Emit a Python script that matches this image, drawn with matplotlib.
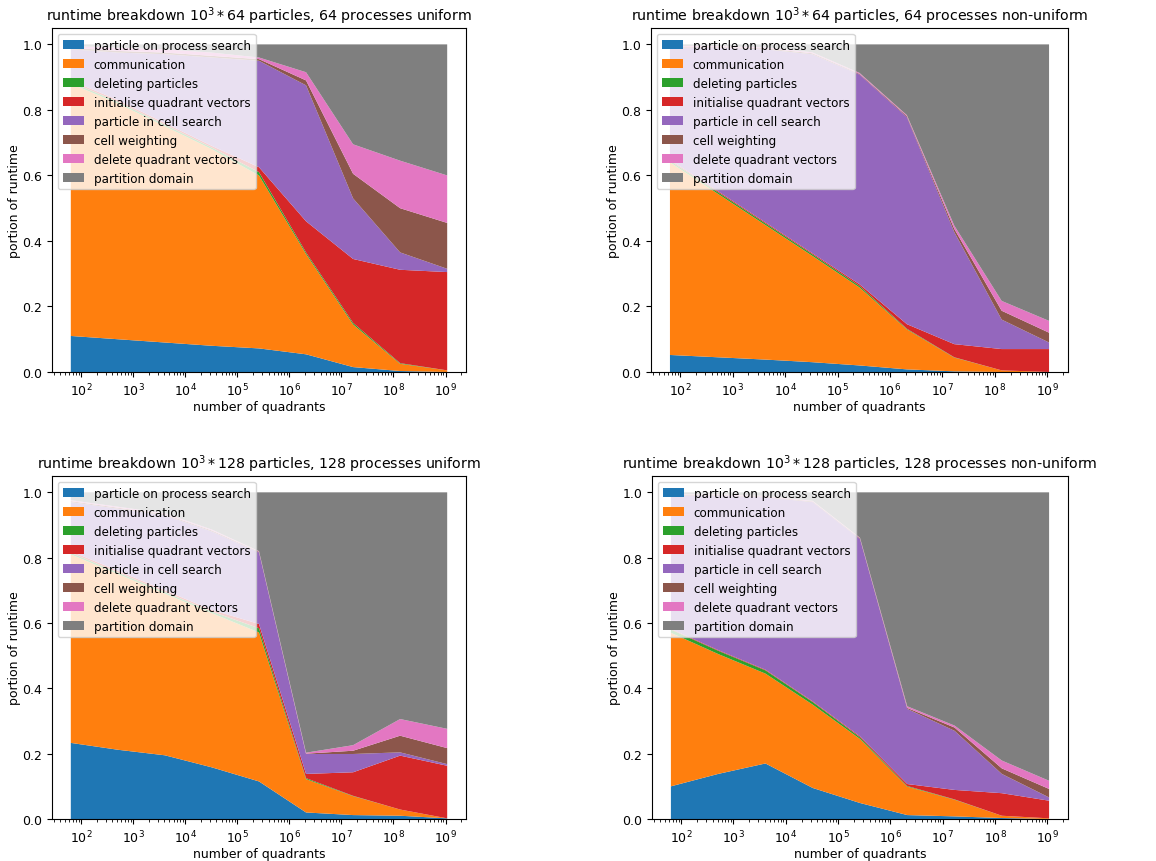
import numpy as np
import matplotlib
matplotlib.use("Agg")
import matplotlib.pyplot as plt

# number of quadrants: (2^k)^3 for k = 2..10
quadrants = [64, 512, 4096, 32768, 262144, 2097152, 16777216, 134217728, 1073741824]

labels = ["particle on process search", "communication", "deleting particles",
          "initialise quadrant vectors", "particle in cell search", "cell weighting",
          "delete quadrant vectors", "partition domain"]

# 10^3*64 particles, 64 processes, uniform
u64_search = [.110, .100, .090, .080, .072, .054, .015, .003, .000]
u64_comm = [.770, .720, .660, .600, .528, .306, .130, .022, .005]
u64_delete = [.005, .005, .005, .005, .010, .005, .005, .002, .000]
u64_init = [.005, .005, .005, .005, .015, .095, .195, .285, .300]
u64_cell = [.095, .145, .210, .270, .325, .415, .185, .053, .010]
u64_weight = [.005, .005, .005, .005, .005, .015, .075, .135, .140]
u64_delquad = [.005, .010, .010, .010, .005, .025, .090, .145, .145]
u64_part = [.005, .010, .015, .025, .040, .085, .305, .355, .400]

# 10^3*64 particles, 64 processes, non-uniform
n64_search = [.052, .045, .038, .030, .020, .008, .002, .000, .000]
n64_comm = [.588, .500, .412, .325, .238, .122, .042, .005, .000]
n64_delete = [.005, .005, .005, .005, .005, .002, .001, .000, .000]
n64_init = [.003, .003, .003, .003, .005, .014, .040, .065, .070]
n64_cell = [.342, .437, .527, .607, .640, .632, .342, .090, .020]
n64_weight = [.002, .002, .003, .003, .002, .003, .010, .027, .030]
n64_delquad = [.003, .003, .003, .003, .003, .003, .010, .030, .036]
n64_part = [.005, .005, .009, .024, .087, .216, .553, .783, .844]

# 10^3*128 particles, 128 processes, uniform
u128_search = [.233, .212, .195, .158, .115, .020, .012, .010, .002]
u128_comm = [.577, .538, .495, .472, .456, .102, .058, .019, .000]
u128_delete = [.005, .005, .005, .005, .013, .003, .001, .000, .000]
u128_init = [.005, .005, .005, .005, .013, .013, .072, .165, .161]
u128_cell = [.150, .190, .230, .240, .219, .061, .056, .010, .005]
u128_weight = [.003, .003, .003, .003, .002, .001, .010, .051, .049]
u128_delquad = [.003, .003, .003, .003, .002, .003, .017, .051, .059]
u128_part = [.024, .044, .064, .114, .180, .797, .774, .694, .724]

# 10^3*128 particles, 128 processes, non-uniform
n128_search = [.100, .138, .170, .095, .049, .012, .008, .003, .000]
n128_comm = [.470, .367, .275, .255, .196, .087, .051, .007, .002]
n128_delete = [.010, .010, .010, .008, .005, .002, .001, .000, .000]
n128_init = [.002, .002, .002, .002, .003, .006, .029, .069, .054]
n128_cell = [.408, .473, .528, .610, .604, .230, .181, .059, .010]
n128_weight = [.002, .002, .002, .002, .002, .003, .010, .017, .026]
n128_delquad = [.002, .002, .002, .002, .002, .005, .006, .024, .025]
n128_part = [.006, .006, .011, .026, .139, .655, .714, .821, .883]

panels = [
    (r"runtime breakdown $10^3 * 64$ particles, 64 processes uniform",
     [u64_search, u64_comm, u64_delete, u64_init, u64_cell, u64_weight, u64_delquad, u64_part]),
    (r"runtime breakdown $10^3 * 64$ particles, 64 processes non-uniform",
     [n64_search, n64_comm, n64_delete, n64_init, n64_cell, n64_weight, n64_delquad, n64_part]),
    (r"runtime breakdown $10^3 * 128$ particles, 128 processes uniform",
     [u128_search, u128_comm, u128_delete, u128_init, u128_cell, u128_weight, u128_delquad, u128_part]),
    (r"runtime breakdown $10^3 * 128$ particles, 128 processes non-uniform",
     [n128_search, n128_comm, n128_delete, n128_init, n128_cell, n128_weight, n128_delquad, n128_part]),
]

W, H = 1156, 862
# axes boxes in pixels: left, top, right, bottom
boxes = [(52, 29, 466, 373), (651, 29, 1068, 373),
         (52, 477, 466, 820), (652, 477, 1068, 820)]

plt.rcParams["font.size"] = 9

fig = plt.figure(figsize=(W / 100, H / 100), dpi=100)
for (title, series), (l, t, r, b) in zip(panels, boxes):
    ax = fig.add_axes([l / W, (H - b) / H, (r - l) / W, (b - t) / H])
    ax.stackplot(quadrants, np.array(series), labels=labels)
    ax.set_xscale("log")
    ax.set_title(title, fontsize=10.2)
    ax.set_xlabel("number of quadrants", labelpad=1)
    ax.set_ylabel("portion of runtime")
    ax.yaxis.set_label_coords(-0.075, 0.5)
    ax.legend(loc="upper left", fontsize=8.6, handlelength=1.8)

fig.savefig("out.png", dpi=100)
